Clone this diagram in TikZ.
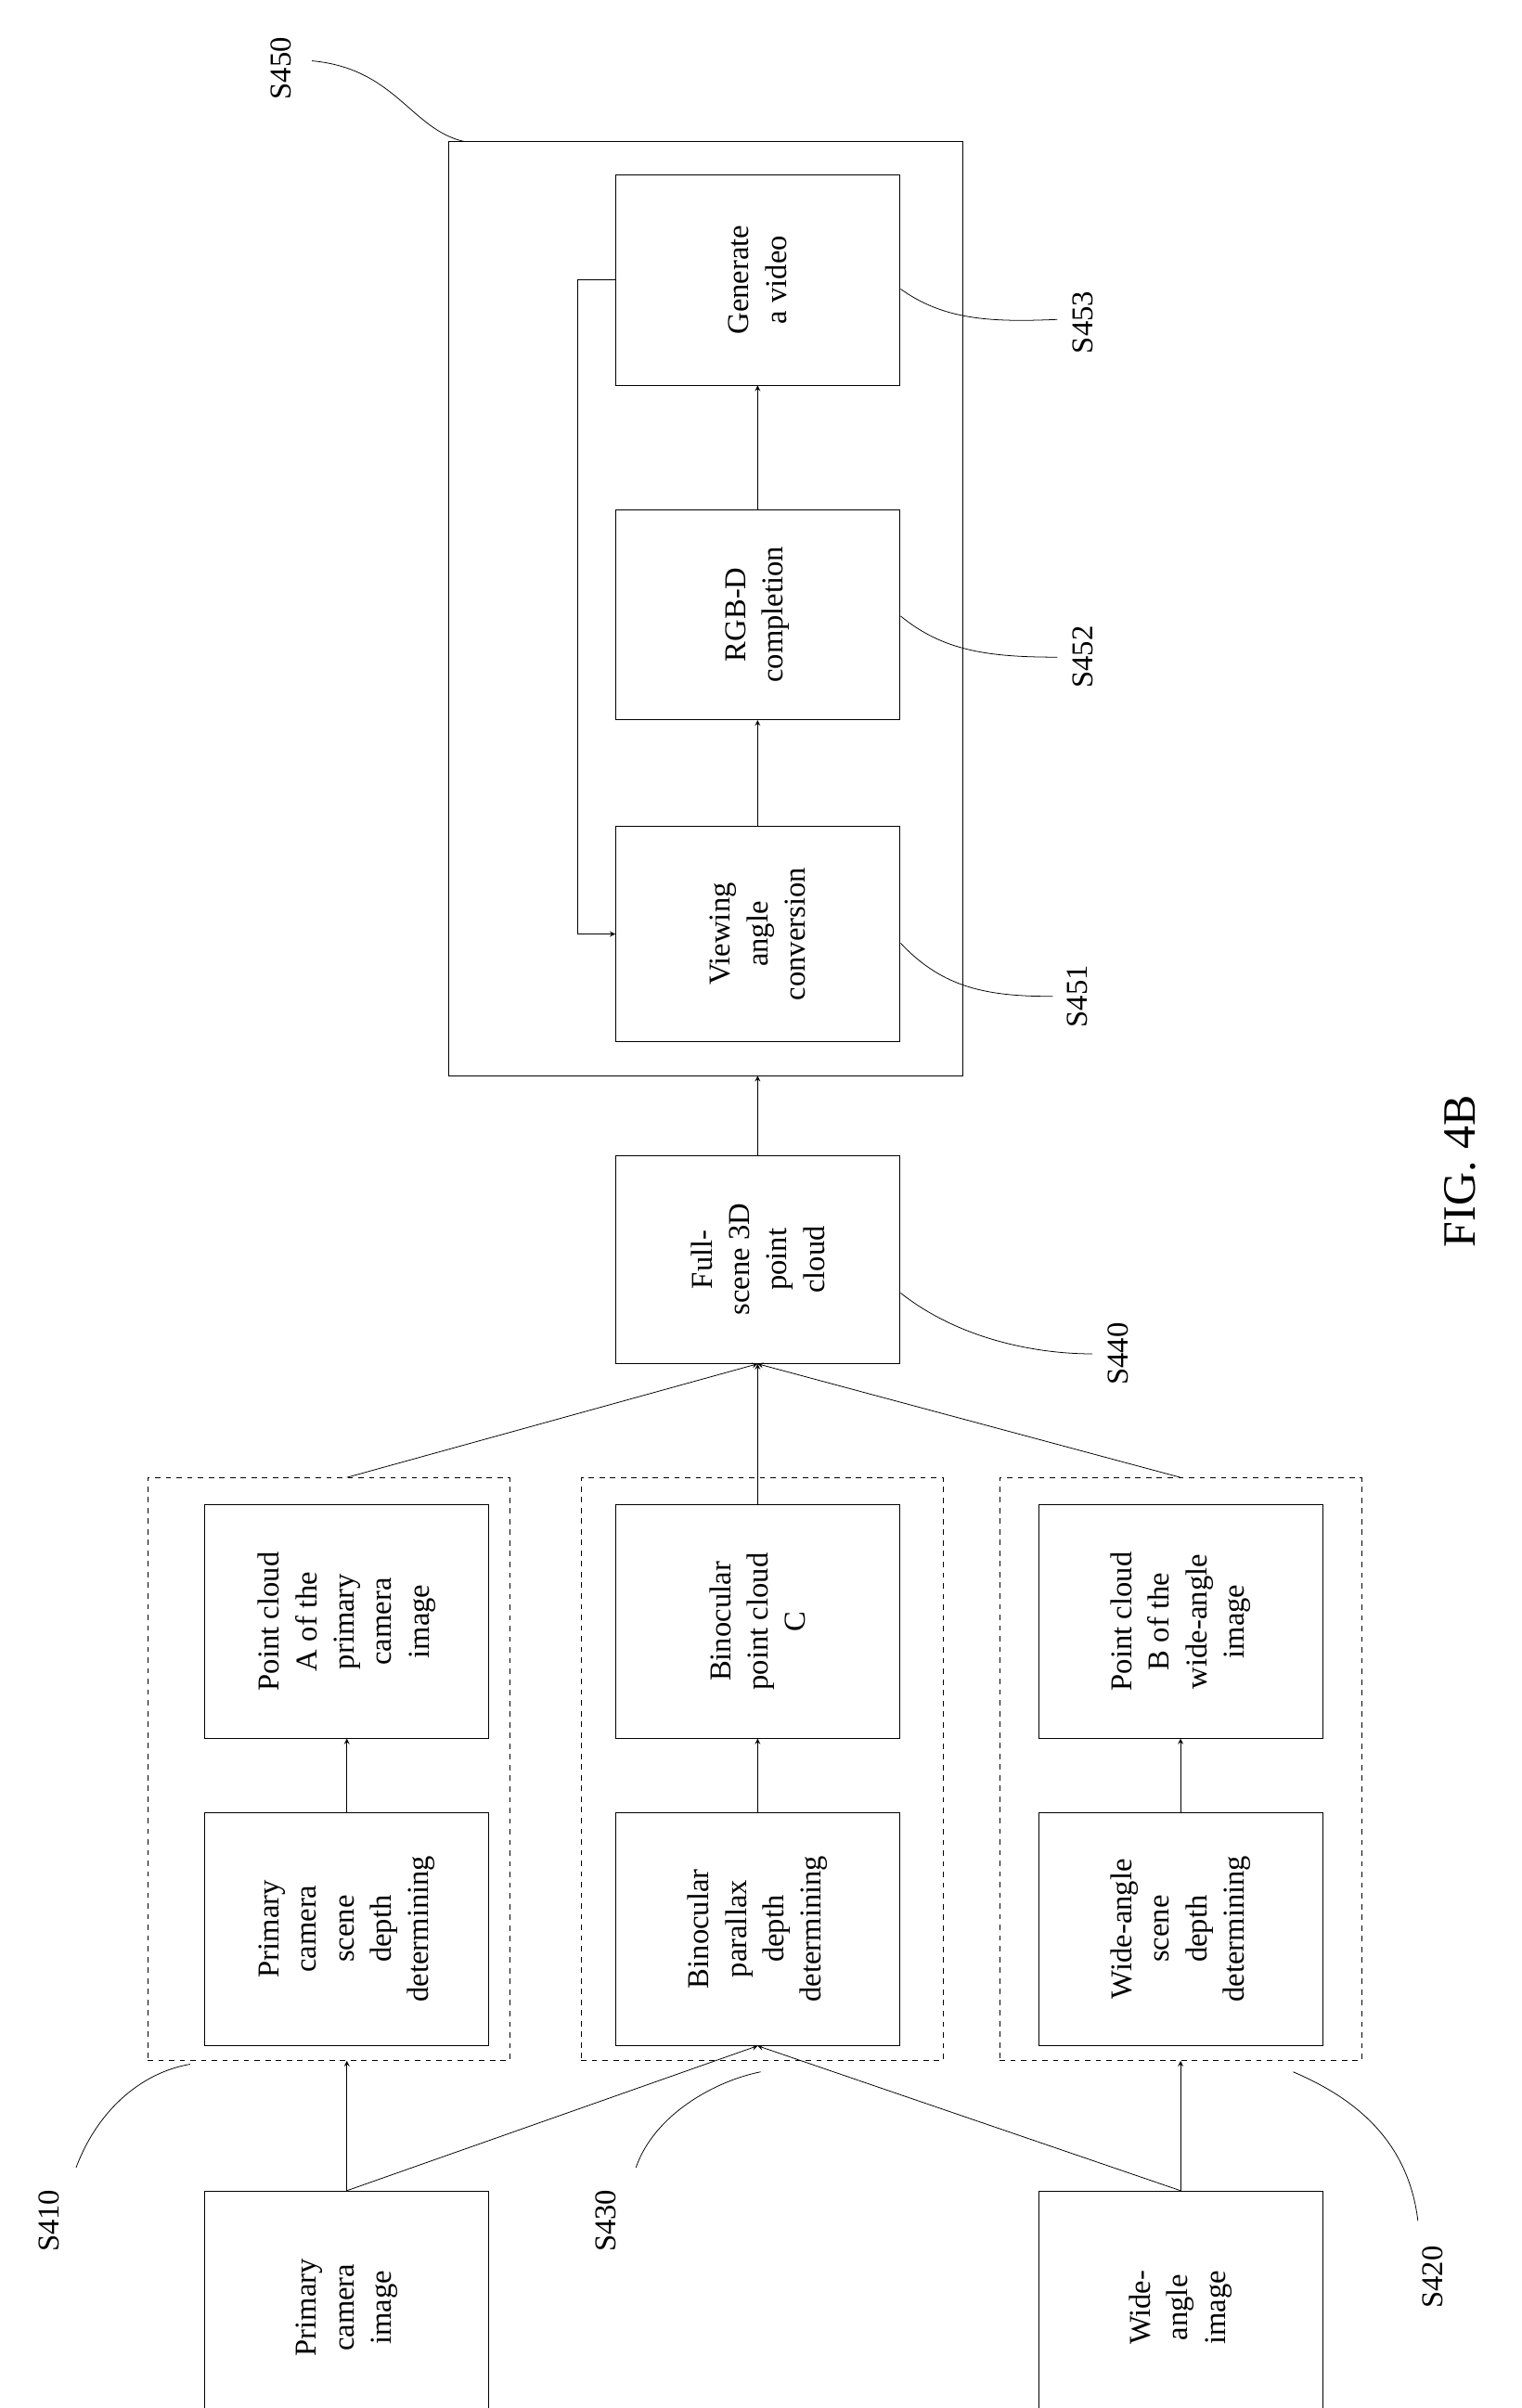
\documentclass[tikz,border=0pt]{standalone}
\usepackage{fontspec}
\setmainfont{Liberation Serif}
\begin{document}
\begin{tikzpicture}[x=0.03cm,y=-0.03cm,>=stealth,
  box/.style={draw,rotate=90,align=center,inner sep=2pt,font=\fontsize{17}{21}\selectfont,minimum width=4.6cm,minimum height=5.6cm},
  grp/.style={draw,dashed,minimum width=7.14cm,minimum height=11.49cm},
  lab/.style={rotate=90,font=\fontsize{17}{21}\selectfont}]
  \useasboundingbox (0,0) rectangle (1000,1583);
  % outer groups
  \node[grp] (g410) at (216,1163) {};
  \node[grp] (g430) at (501,1163) {};
  \node[grp] (g420) at (776,1163) {};
  \node[draw,minimum width=10.14cm,minimum height=18.42cm] (g450) at (464,400) {};
  % inputs
  \node[box] (pimg) at (228,1517) {Primary\\camera\\image};
  \node[box] (wimg) at (776,1517) {Wide-\\angle\\image};
  % depth steps
  \node[box] (pdep) at (228,1268) {Primary\\camera\\scene\\depth\\determining};
  \node[box] (bdep) at (498,1268) {Binocular\\parallax\\depth\\determining};
  \node[box] (wdep) at (776,1268) {Wide-angle\\scene\\depth\\determining};
  % point clouds
  \node[box] (pca) at (228,1066) {Point cloud\\A of the\\primary\\camera\\image};
  \node[box] (pcc) at (498,1066) {Binocular\\point cloud\\C};
  \node[box] (pcb) at (776,1066) {Point cloud\\B of the\\wide-angle\\image};
  \node[box,minimum width=4.1cm] (full) at (498,828) {Full-\\scene 3D\\point\\cloud};
  % rendering
  \node[box,minimum width=4.25cm] (view) at (498,614) {Viewing\\angle\\conversion};
  \node[box,minimum width=4.15cm] (rgbd) at (498,404) {RGB-D\\completion};
  \node[box,minimum width=4.15cm] (gen) at (498,184) {Generate\\a video};
  % arrows
  \draw[->] (pimg.east) -- (g410.south -| pimg.east);
  \draw[->] (pimg.east) -- (bdep.west);
  \draw[->] (wimg.east) -- (bdep.west);
  \draw[->] (wimg.east) -- (g420.south -| wimg.east);
  \draw[->] (pdep) -- (pca);
  \draw[->] (bdep) -- (pcc);
  \draw[->] (wdep) -- (pcb);
  \draw[->] (g410.north -| pca.east) -- (full.west);
  \draw[->] (pcc.east) -- (full.west);
  \draw[->] (g420.north -| pcb.east) -- (full.west);
  \draw[->] (full.east) -- (g450.south -| full.east);
  \draw[->] (view) -- (rgbd);
  \draw[->] (rgbd) -- (gen);
  \draw[->] (gen.north) -- ++(-25,0) |- (view.north);
  % step labels
  \node[lab] (l450) at (185,45) {S450};
  \draw (205,40) .. controls (260,45) and (270,85) .. (305,93);
  \node[lab] (l453) at (712,212) {S453};
  \draw (592,190) .. controls (620,210) and (650,212) .. (695,210);
  \node[lab] (l452) at (712,432) {S452};
  \draw (592,405) .. controls (620,428) and (650,432) .. (695,432);
  \node[lab] (l451) at (708,655) {S451};
  \draw (592,620) .. controls (620,650) and (650,655) .. (692,655);
  \node[lab] (l440) at (735,890) {S440};
  \draw (592,850) .. controls (630,880) and (680,890) .. (718,890);
  \node[lab] (l410) at (32,1460) {S410};
  \draw (50,1425) .. controls (65,1385) and (95,1362) .. (125,1357);
  \node[lab] (l430) at (398,1460) {S430};
  \draw (418,1425) .. controls (430,1390) and (470,1368) .. (500,1362);
  \node[lab] (l420) at (942,1497) {S420};
  \draw (850,1362) .. controls (880,1375) and (925,1400) .. (932,1460);
  \node[rotate=90,font=\fontsize{26}{30}\selectfont] (fig) at (960,770) {FIG. 4B};
\end{tikzpicture}
\end{document}
